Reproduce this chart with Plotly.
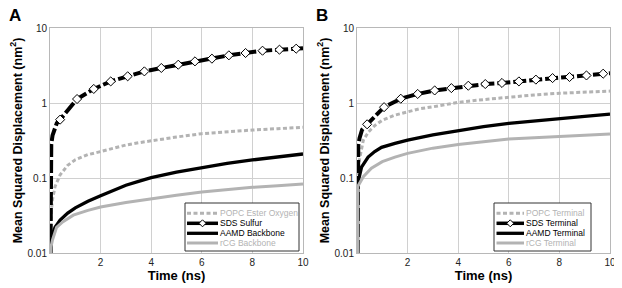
import plotly.graph_objects as go

# ---------------- data ----------------
# Panel A
popc_A_t = [0.02, 0.05, 0.09, 0.2, 0.4, 0.7, 1.0, 1.5, 2, 2.5, 3, 3.5, 4, 5, 6, 7, 8, 9, 10]
popc_A_v = [0.01, 0.035, 0.05, 0.077, 0.11, 0.148, 0.175, 0.205, 0.225, 0.25, 0.275, 0.295, 0.315, 0.352, 0.39, 0.415, 0.436, 0.455, 0.474]

sds_A_early_t = [0.02, 0.025, 0.05, 0.1, 0.2, 0.27]
sds_A_early_v = [0.01, 0.2, 0.28, 0.37, 0.48, 0.54]
sds_marker_t = [0.4, 1.07, 1.73, 2.4, 3.07, 3.73, 4.4, 5.07, 5.73, 6.4, 7.07, 7.73, 8.4, 9.07, 9.73]
sds_A_marker_v = [0.60, 1.13, 1.54, 1.94, 2.27, 2.64, 2.93, 3.24, 3.59, 3.90, 4.32, 4.64, 4.98, 5.14, 5.30]
sds_A_end_t = [10]
sds_A_end_v = [5.35]

aamd_A_t = [0.02, 0.05, 0.1, 0.2, 0.4, 0.7, 1.0, 1.5, 2, 2.5, 3, 3.5, 4, 5, 6, 7, 8, 9, 10]
aamd_A_v = [0.01, 0.015, 0.018, 0.022, 0.0275, 0.034, 0.040, 0.049, 0.058, 0.069, 0.080, 0.090, 0.101, 0.120, 0.139, 0.157, 0.174, 0.191, 0.209]

rcg_A_t = [0.02, 0.04, 0.1, 0.26, 0.5, 0.92, 1.5, 2, 3, 4, 5, 6, 7, 8, 9, 10]
rcg_A_v = [0.01, 0.012, 0.015, 0.022, 0.026, 0.032, 0.037, 0.041, 0.047, 0.053, 0.059, 0.065, 0.070, 0.075, 0.079, 0.083]

# Panel B
popc_B_t = [0.02, 0.05, 0.09, 0.25, 0.45, 0.7, 1.0, 1.5, 2, 2.5, 3, 4, 5, 6, 7, 8, 9, 10]
popc_B_v = [0.06, 0.12, 0.17, 0.32, 0.41, 0.50, 0.59, 0.69, 0.77, 0.84, 0.89, 1.02, 1.11, 1.20, 1.28, 1.35, 1.40, 1.44]

sds_B_early_t = [0.02, 0.025, 0.05, 0.1, 0.2]
sds_B_early_v = [0.01, 0.19, 0.27, 0.34, 0.44]
sds_B_marker_v = [0.52, 0.88, 1.14, 1.32, 1.47, 1.58, 1.70, 1.79, 1.85, 1.94, 2.05, 2.15, 2.22, 2.33, 2.46]
sds_B_end_t = [10]
sds_B_end_v = [2.50]

aamd_B_t = [0.02, 0.021, 0.03, 0.18, 0.44, 0.7, 0.97, 1.5, 2, 3, 4, 5, 6, 7, 8, 9, 10]
aamd_B_v = [0.01, 0.07, 0.085, 0.14, 0.19, 0.225, 0.256, 0.29, 0.32, 0.375, 0.43, 0.485, 0.535, 0.58, 0.62, 0.665, 0.71]

rcg_B_t = [0.02, 0.021, 0.03, 0.25, 0.57, 1.0, 1.5, 2, 3, 4, 5, 6, 7, 8, 9, 10]
rcg_B_v = [0.01, 0.065, 0.077, 0.104, 0.135, 0.165, 0.19, 0.213, 0.25, 0.28, 0.305, 0.33, 0.345, 0.357, 0.372, 0.386]

legend_A_names = ["POPC Ester Oxygen", "SDS Sulfur", "AAMD Backbone", "rCG Backbone"]
legend_B_names = ["POPC Terminal", "SDS Terminal", "AAMD Terminal", "rCG Terminal"]

x_tick_vals = [2, 4, 6, 8, 10]
y_tick_vals = [0.01, 0.1, 1, 10]
y_tick_text = ["0.01", "0.1", "1", "10"]

# ---------------- styles / layout ----------------
GRAY = "#b3b3b3"
FONT = "Arial, Liberation Sans, sans-serif"
STYLE = {
    "popc": dict(color=GRAY, width=3, dash="4px,2.5px"),
    "sds": dict(color="black", width=4, dash="13px,3px"),
    "aamd": dict(color="black", width=3.3, dash="solid"),
    "rcg": dict(color=GRAY, width=3, dash="solid"),
}
TEXT_COLOR = {"popc": GRAY, "sds": "black", "aamd": "black", "rcg": GRAY}
KEYS = ["popc", "sds", "aamd", "rcg"]

# the page body adds an 8px margin; positions below are given in window pixels
OFF = 8
WIN_W, WIN_H = 622, 288
W, H = WIN_W - OFF, WIN_H - OFF
PLOT_LEFT, PLOT_RIGHT, PLOT_TOP, PLOT_BOTTOM = 50, 610, 28, 253
A_RIGHT, B_LEFT = 303, 357
ML, MR = PLOT_LEFT - OFF, W - (PLOT_RIGHT - OFF)
MT, MB = PLOT_TOP - OFF, H - (PLOT_BOTTOM - OFF)
PW, PH = W - ML - MR, H - MT - MB


def pxx(x):
    return (x - PLOT_LEFT) / PW


def pxy(y):
    return (PLOT_BOTTOM - y) / PH


fig = go.Figure()


def add_panel(xa, ya, series, sds_marker_v, names):
    for key, (t, v), name in zip(KEYS, series, names):
        fig.add_trace(go.Scatter(x=t, y=v, mode="lines", name=name, line=STYLE[key],
                                 xaxis=xa, yaxis=ya, showlegend=False))
        if key == "sds":
            fig.add_trace(go.Scatter(x=sds_marker_t, y=sds_marker_v, mode="markers", name=name,
                                     marker=dict(symbol="diamond", size=7, color="white",
                                                 line=dict(color="black", width=1)),
                                     xaxis=xa, yaxis=ya, showlegend=False))


add_panel("x", "y",
          [(popc_A_t, popc_A_v),
           (sds_A_early_t + sds_marker_t + sds_A_end_t, sds_A_early_v + sds_A_marker_v + sds_A_end_v),
           (aamd_A_t, aamd_A_v), (rcg_A_t, rcg_A_v)],
          sds_A_marker_v, legend_A_names)
add_panel("x2", "y2",
          [(popc_B_t, popc_B_v),
           (sds_B_early_t + sds_marker_t + sds_B_end_t, sds_B_early_v + sds_B_marker_v + sds_B_end_v),
           (aamd_B_t, aamd_B_v), (rcg_B_t, rcg_B_v)],
          sds_B_marker_v, legend_B_names)

axis_common = dict(showgrid=True, gridcolor="#d0d0d0", gridwidth=1, showline=True,
                   linecolor="#b8b8b8", linewidth=1, mirror=True, zeroline=False, ticks="",
                   tickfont=dict(family=FONT, size=10, color="#222"))
xcommon = dict(axis_common, range=[0, 10], tickvals=x_tick_vals,
               title=dict(text="<b>Time (ns)</b>", font=dict(family=FONT, size=13, color="black"), standoff=2))
ycommon = dict(axis_common, type="log", range=[-2, 1], tickvals=y_tick_vals, ticktext=y_tick_text,
               title=dict(text="<b>Mean Squared Displacement (nm<sup>2</sup>)</b>",
                          font=dict(family=FONT, size=12.5, color="black"), standoff=2))

fig.update_layout(
    width=W, height=H, margin=dict(l=ML, r=MR, t=MT, b=MB, autoexpand=False),
    paper_bgcolor="white", plot_bgcolor="white", showlegend=False,
    xaxis=dict(xcommon, domain=[0, (A_RIGHT - PLOT_LEFT) / PW], anchor="y"),
    yaxis=dict(ycommon, domain=[0, 1], anchor="x"),
    xaxis2=dict(xcommon, domain=[(B_LEFT - PLOT_LEFT) / PW, 1], anchor="y2"),
    yaxis2=dict(ycommon, domain=[0, 1], anchor="x2"),
)

# panel letters
for letter, xp in [("A", 14.5), ("B", 321.5)]:
    fig.add_annotation(text="<b>%s</b>" % letter, x=pxx(xp), y=pxy(15), xref="paper", yref="paper",
                       showarrow=False, xanchor="center", yanchor="middle",
                       font=dict(family=FONT, size=17, color="black"))


# compact boxed legends (box, line samples, coloured labels)
def add_legend(box, sample_x, text_x, row_y, names):
    x0, x1, y0, y1 = box
    fig.add_shape(type="rect", xref="paper", yref="paper", x0=pxx(x0), x1=pxx(x1), y0=pxy(y0), y1=pxy(y1),
                  line=dict(color="#333", width=1), fillcolor="white", layer="above")
    for key, yy, name in zip(KEYS, row_y, names):
        st = STYLE[key]
        fig.add_shape(type="line", xref="paper", yref="paper",
                      x0=pxx(sample_x[0]), x1=pxx(sample_x[1]), y0=pxy(yy), y1=pxy(yy),
                      line=dict(color=st["color"], width=min(st["width"], 3.5),
                                dash=st["dash"] if key != "sds" else "solid"))
        if key == "sds":
            xc = (sample_x[0] + sample_x[1]) / 2
            fig.add_shape(type="path", xref="paper", yref="paper", xsizemode="pixel", ysizemode="pixel",
                          xanchor=pxx(xc), yanchor=pxy(yy),
                          path="M -3.5 0 L 0 3.5 L 3.5 0 L 0 -3.5 Z",
                          fillcolor="white", line=dict(color="black", width=1))
        fig.add_annotation(text=name, x=pxx(text_x), y=pxy(yy), xref="paper", yref="paper",
                           showarrow=False, xanchor="left", yanchor="middle",
                           font=dict(family=FONT, size=8.5, color=TEXT_COLOR[key]))


rows = [213.3, 223.3, 233.3, 243.0]
add_legend((185, 299, 203, 251), (187, 218), 217.5, rows, legend_A_names)
add_legend((494, 591, 203, 251), (496.5, 524), 523.5, rows, legend_B_names)

fig.write_html("out.html")
